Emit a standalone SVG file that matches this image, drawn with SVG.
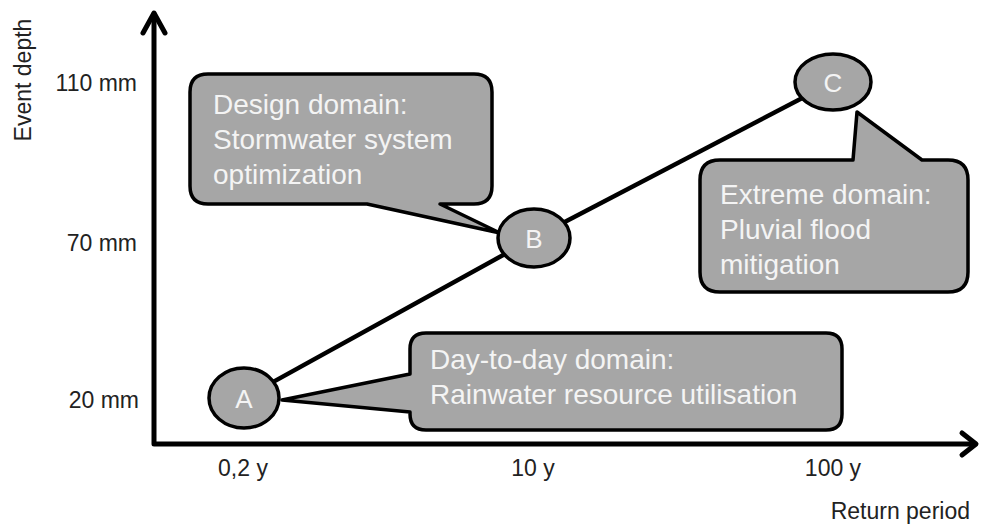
<svg xmlns="http://www.w3.org/2000/svg" width="981" height="525" viewBox="0 0 981 525">
<style>
.axis{fill:none;stroke:#000;stroke-width:5;stroke-linecap:round;stroke-linejoin:round}
.conn{stroke:#000;stroke-width:4.5;fill:none}
.shape{fill:#a6a6a6;stroke:#000;stroke-width:3.5;stroke-linejoin:round}
.lbl{font-family:"Liberation Sans",Arial,sans-serif;font-size:28px;fill:#f4f4f4}
.node{font-family:"Liberation Sans",Arial,sans-serif;font-size:26px;fill:#f4f4f4;text-anchor:middle}
.tick{font-family:"Liberation Sans",Arial,sans-serif;font-size:23px;fill:#222}
</style>
<rect width="981" height="525" fill="#fff"/>
<g id="axes">
<polyline class="axis" points="154,14 154,444 975,444"/>
<polyline class="axis" points="143,33 154,13 165,33"/>
<polyline class="axis" points="962,433 976,444 962,455"/>
<text class="tick" x="137" y="91" text-anchor="end">110 mm</text>
<text class="tick" x="137" y="251" text-anchor="end">70 mm</text>
<text class="tick" x="139" y="408" text-anchor="end">20 mm</text>
<text class="tick" x="243" y="476" text-anchor="middle">0,2 y</text>
<text class="tick" x="533" y="476" text-anchor="middle">10 y</text>
<text class="tick" x="833" y="476" text-anchor="middle">100 y</text>
<text class="tick" x="970" y="519" text-anchor="end">Return period</text>
<text class="tick" transform="translate(31,80) rotate(-90)" text-anchor="middle" font-size="24">Event depth</text>
</g>
<g id="connectors">
<line class="conn" x1="244" y1="398" x2="534" y2="238"/>
<line class="conn" x1="534" y1="238" x2="833" y2="82"/>
</g>
<g id="callout-design">
<path class="shape" d="M208,74 H474 Q492,74 492,92 V186 Q492,204 474,204 H440 L500,233 L367,204 H208 Q190,204 190,186 V92 Q190,74 208,74 Z"/>
<text class="lbl" x="213" y="114">Design domain:</text>
<text class="lbl" x="213" y="149">Stormwater system</text>
<text class="lbl" x="213" y="184">optimization</text>
</g>
<g id="callout-extreme">
<path class="shape" d="M720,160 H853 L857,112 L922,160 H948 Q968,160 968,180 V272 Q968,292 948,292 H720 Q700,292 700,272 V180 Q700,160 720,160 Z"/>
<text class="lbl" x="720" y="204">Extreme domain:</text>
<text class="lbl" x="720" y="239">Pluvial flood</text>
<text class="lbl" x="720" y="274">mitigation</text>
</g>
<g id="callout-daytoday">
<path class="shape" d="M426,333 H826 Q842,333 842,349 V414 Q842,430 826,430 H426 Q410,430 410,414 V412 L282,400 L410,374 V349 Q410,333 426,333 Z"/>
<text class="lbl" x="430" y="369">Day-to-day domain:</text>
<text class="lbl" x="430" y="404">Rainwater resource utilisation</text>
</g>
<g id="node-A">
<ellipse class="shape" cx="244" cy="398" rx="35" ry="30"/>
<text class="node" x="244" y="408">A</text>
</g>
<g id="node-B">
<ellipse class="shape" cx="534" cy="238" rx="36" ry="29"/>
<text class="node" x="534" y="248">B</text>
</g>
<g id="node-C">
<ellipse class="shape" cx="833" cy="82" rx="38" ry="28"/>
<text class="node" x="833" y="92">C</text>
</g>
</svg>
